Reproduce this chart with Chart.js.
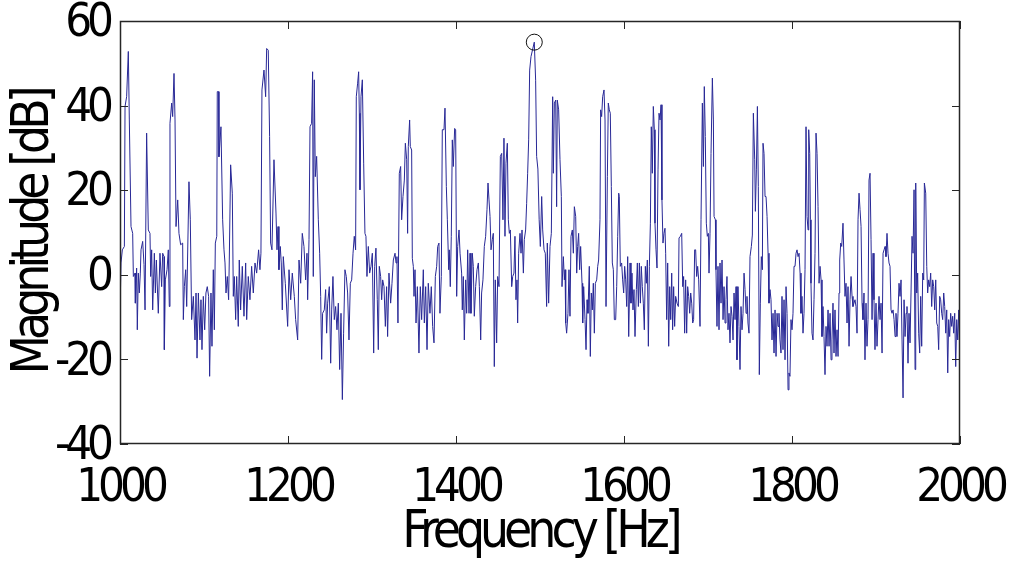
<!DOCTYPE html>
<html lang="en">
<head>
<meta charset="UTF-8">
<title>Magnitude spectrum</title>
<script src="https://cdn.jsdelivr.net/npm/chart.js"></script>
<style>
    html, body { margin: 0; padding: 0; background: #fff; }
    #spectrum { display: block; }
</style>
</head>
<body>
<canvas id="spectrum" width="1014" height="564"></canvas>
<script>
// [frequency Hz, magnitude dB]
const band1000 = [[1000,-9],[1001.2,2.8],[1002.8,5.9],[1005.2,6.7],[1006,39.8],[1007.9,42.1],[1009.9,52.8],[1011.1,36.6],[1013.1,11.4],[1015.1,9.8],[1015.9,-0.4],[1017.9,0.4],[1018.3,-6.7],[1019.8,1.6],[1020.6,-13],[1021.8,0.4],[1023,-4.3],[1024.2,0.4],[1025,5.9],[1027,7.9],[1028.6,2.4],[1029.8,-8.3],[1031.7,33.5],[1033.7,10.6],[1035.7,9.8],[1036.5,-0.4],[1037.7,5.9],[1038.9,-8.3],[1040.9,5.1],[1042.1,-4.3],[1043.3,3.5],[1045.6,-9.1],[1047.6,5.1],[1049.6,-2.8],[1050.8,5.1],[1052.4,4.3],[1052.8,-17.7],[1054,-1.2],[1056,1.2],[1057.5,5.9],[1058.7,-7.5],[1059.5,35.8],[1061.5,40.6],[1062.7,37.4],[1064.3,47.6],[1065.5,36.6],[1066.7,11.4],[1068.7,17.7],[1070.2,9.8],[1072.2,7.1],[1074.6,7.5],[1075.4,-10.6],[1076.6,-2.8],[1078.2,1.2],[1079.4,-7.5],[1082.1,22],[1083.7,13],[1085.3,-10.6],[1087.3,-5.1],[1089.3,-15.4],[1090.5,-4.3],[1091.7,-19.7],[1093.3,-4.3],[1095.2,-15.4],[1096.4,-5.9],[1097.6,-17.7],[1099.2,-5.1]];
const band1100 = [[1100.8,-13],[1102.3,-4.3],[1103.9,-2.8],[1105.5,-5.1],[1106.7,-24],[1108.3,-4.3],[1109.5,-16.9],[1111.1,1.2],[1112.3,-13],[1113.5,7.5],[1115.2,9.1],[1115.8,43.3],[1117.4,43.3],[1117.8,27.9],[1120.2,35],[1122.2,13],[1123.8,5.9],[1125,2.8],[1126.2,-4.3],[1127.7,-0.4],[1129.3,-5.9],[1130.1,3.5],[1131.7,26],[1133.7,19.3],[1134.9,-5.1],[1136.1,-0.4],[1137.7,-10.6],[1138.9,-0.4],[1140.8,-12.2],[1142,3.5],[1143.6,-8.3],[1145.6,2],[1147.6,-9.8],[1149.6,2.8],[1150.8,-10.6],[1152.7,-0.4],[1154.7,-5.9],[1156.7,2],[1158.7,-4.3],[1160.7,2.8],[1162.7,0.4],[1165,5.9],[1166.6,1.2],[1167.8,5.1],[1169,43.7],[1171.4,48.4],[1173.4,42.1],[1174.6,53.5],[1176.5,53.1],[1178.1,32.7],[1179.3,7.5],[1180.9,5.9],[1183.3,27.2],[1185.7,14.6],[1186.9,5.9],[1188.1,11.4],[1189.2,1.2],[1190.8,6.7],[1192,2.8],[1193.2,-8.3],[1194.4,4.3],[1196.8,-2],[1199.6,-12.2]];
const band1200 = [[1201.2,1.2],[1203.2,-5.9],[1205.1,0.4],[1207.5,-5.1],[1209.1,-10.6],[1211.5,-15.4],[1213.1,3.5],[1215.1,-2],[1217,9.8],[1219,6.7],[1221,-1.2],[1222.6,5.1],[1223.4,-5.9],[1225,8.3],[1226.2,35],[1228.1,35.8],[1229.3,48],[1230.1,-0.4],[1231.3,46.1],[1232.5,23.2],[1234.1,28],[1236.1,13],[1237.7,5.1],[1238.9,-5.1],[1240.1,-20],[1241.2,-9.1],[1243.2,-8.3],[1244.8,-3.5],[1246,-13.8],[1247.2,-6.7],[1249.2,-2.8],[1250.8,-20.9],[1252,-8.3],[1253.5,-0.4],[1255.1,-10.6],[1256.7,-7.5],[1258.3,-13],[1259.9,-6.7],[1261.5,-22.4],[1263.1,-9.1],[1264.7,-29.5],[1266.2,-13.8],[1267.8,1.2],[1269.4,-0.4],[1271,-4.3],[1272.6,-15.4],[1274.2,-2],[1275.8,-1.2],[1277.4,5.1],[1278.9,9.1],[1280.5,5.9],[1281.3,42.1],[1282.9,45.3],[1284.1,48],[1284.9,38.2],[1285.7,20.1],[1286.9,42.1],[1288.5,46.1],[1290.1,26.4],[1291.6,9.8],[1292.8,9.1],[1294,-0.4],[1295.6,6.7],[1297.2,0.4],[1298.8,2]];
const band1300 = [[1300.4,5.1],[1302,-18.5],[1303.2,2],[1304.7,6.3],[1306.3,-5.9],[1307.5,-17.7],[1308.7,2],[1310.3,-0.4],[1311.5,-5.9],[1312.7,-1.2],[1314.3,-2.8],[1315.9,-12.2],[1317.4,-2.8],[1318.6,-14.6],[1320.2,0.4],[1322.2,-6.7],[1323.8,-2],[1325.4,3.5],[1327.4,5.1],[1328.6,2.8],[1329.7,4.3],[1330.9,-11.4],[1332.5,24],[1334.1,25.6],[1335.3,13],[1336.9,18.5],[1338.5,22.4],[1339.7,31.1],[1341.3,27.2],[1342.4,9.8],[1343.2,30.3],[1344.8,36.6],[1345.6,30.3],[1347.2,29.5],[1348,3.9],[1349.2,2],[1350,-5.1],[1351.2,1.2],[1352.4,-11.4],[1354,-2.8],[1355.9,-18.5],[1357.5,-2.8],[1359.1,-10.6],[1361.1,1.2],[1362.3,-11.4],[1363.9,-2.8],[1365.5,-17.7],[1367,-2],[1369,-9.1],[1370.6,-2.8],[1372.2,-12.2],[1373.8,-16.1],[1375.4,-0.4],[1377,2],[1378.2,6.7],[1379.7,7.5],[1380.9,-9.1],[1382.5,-0.4],[1383.7,34.3],[1385.7,34.3],[1386.9,39.4],[1388.5,20.9],[1389.7,13],[1391.3,1.2],[1392,5.9],[1393.2,-2.8],[1394.4,9.1],[1395.6,31.9],[1396.8,25.6],[1398.4,34.6],[1399.6,34.3]];
const band1400 = [[1400.8,-5.1],[1402,6.7],[1403.6,10.6],[1404.8,5.1],[1406.7,0.4],[1407.5,-8.3],[1408.7,-0.4],[1409.9,-15.4],[1411.5,-1.2],[1412.7,-9.1],[1413.9,5.9],[1415.5,-9.1],[1416.7,5.1],[1417.8,-9.1],[1419.4,5.1],[1420.6,2],[1421.8,-9.8],[1423.4,-2.8],[1425,1.2],[1426.6,2.8],[1427.8,-2.8],[1429.4,-15.4],[1430.5,-4.3],[1432.1,-1.2],[1433.7,6.7],[1435.3,9.1],[1436.9,15.4],[1438.1,21.7],[1439.3,17.7],[1440.5,13.8],[1441.7,5.9],[1443.2,8.3],[1444.4,9.8],[1445.6,-21.7],[1446.8,-1.2],[1448.4,-16.1],[1449.6,-0.4],[1451.2,-2.8],[1452.8,28],[1454.4,28.7],[1455.9,13],[1457.1,32.3],[1458.3,9.1],[1459.5,26.4],[1461.1,31.1],[1462.3,13],[1463.5,9.8],[1464.7,10.6],[1466.3,-2.8],[1467.5,-0.4],[1469,0.4],[1470.2,9.1],[1471.4,-5.9],[1472.6,-1.2],[1473.4,-11.4],[1474.6,5.1],[1476.2,9.8],[1477.4,5.1],[1478.6,10.6],[1480.2,0.4],[1481.3,8.3],[1482.9,10.6],[1484.1,16.9],[1485.3,24],[1486.5,31.9],[1487.7,48.4],[1489.3,51.6],[1493.2,55],[1494.8,46],[1496,28],[1497.5,25],[1499,13]];
const band1500 = [[1500.4,6.7],[1502,18.5],[1503.2,10.6],[1504.8,5.9],[1506.3,5.1],[1507.9,-7.5],[1508.7,7.5],[1510.3,-6.7],[1511.9,6.7],[1513.5,9.8],[1515.1,42.1],[1515.9,24],[1517.1,40.6],[1518.7,41.3],[1519.8,16.1],[1520.6,41.3],[1522.2,39],[1523.8,27.2],[1525.4,18.5],[1526.2,-2.8],[1527.8,4.3],[1529,-1.2],[1529.8,1.2],[1530.6,-11.4],[1531.7,-13.8],[1533.3,-9.1],[1534.5,1.2],[1535.7,-9.8],[1536.9,9.1],[1538.5,10.6],[1539.7,5.1],[1540.9,16.1],[1542.5,13.8],[1543.7,0.4],[1544.8,6.7],[1546,9.8],[1547.2,1.2],[1548.4,6.7],[1550,-2],[1550.8,-11.4],[1552,-2.8],[1553.6,-10.6],[1554.8,-17.7],[1556,-5.9],[1557.1,-9.1],[1558.7,2],[1559.9,-19.3],[1561.1,-4.3],[1562.3,-8.3],[1563.5,-2],[1564.7,-13.8],[1565.9,-2],[1567.5,-1.2],[1568.7,2],[1569.8,3.5],[1571.4,13],[1572.2,39],[1573.4,37.4],[1574.6,42.1],[1576.2,43.7],[1577.4,36.6],[1578.6,-7.5],[1580.2,23.2],[1581.3,40.6],[1582.5,39],[1583.7,38.2],[1584.9,20.9],[1586.1,2.8],[1587.3,1.2],[1588.5,-10.6],[1590.1,-10.6],[1591.3,-2.8],[1592.5,9.1],[1593.7,19.3],[1594.4,18.5],[1595.6,2],[1597.2,2.8],[1598.4,-1.2],[1599.6,-4.3]];
const band1600 = [[1600.8,2],[1602,-1.2],[1603.2,-7.5],[1604.4,4.3],[1605.6,-14.6],[1607.2,2.8],[1608.3,-6.7],[1609.5,0.4],[1610.7,-8.3],[1611.9,-3.5],[1613.1,-14.6],[1614.7,-3.5],[1615.9,2.8],[1617.1,-7.5],[1618.3,2.8],[1619.5,-6.7],[1620.6,2],[1621.8,-2.8],[1623,-6.7],[1624.2,-13],[1625.4,2],[1626.6,-2],[1627.8,3.5],[1629,-16.9],[1630.2,2],[1631.4,12.2],[1632.5,35],[1633.7,24],[1634.9,39.8],[1636.1,34.3],[1636.9,12.2],[1638.1,5.9],[1639.3,1.6],[1640.5,24.8],[1641.7,38.2],[1642.9,36.6],[1644.1,40.2],[1645.2,17.7],[1646.4,7.5],[1647.6,9.8],[1648.8,11],[1649.6,5.1],[1650.8,-10.6],[1652,2.8],[1653.2,-16.9],[1654.4,-2.8],[1655.6,-10.6],[1656.8,0.4],[1657.9,-13],[1659.1,-2.8],[1660.3,-12.2],[1661.5,-5.1],[1663.1,-6.7],[1664.7,-7.5],[1665.5,8.7],[1667.1,9.1],[1668.7,9.8],[1669.9,-2.8],[1671,-0.4],[1672.2,-13.8],[1673.4,-1.2],[1674.6,-13.8],[1675.8,-2.8],[1677,-5.1],[1678.2,-9.1],[1679.4,-4.3],[1680.6,-6.7],[1681.8,-11.4],[1682.9,-10.6],[1684.1,5.9],[1685.3,5.9],[1686.5,-0.4],[1687.7,2],[1688.9,-1.2],[1690.5,-12.2],[1691.7,13],[1693.3,40.6],[1694.5,25.6],[1695.6,44.5],[1696.8,32.7],[1698,12.2],[1699.2,9.1]];
const band1700 = [[1700.4,9.8],[1701.2,0.4],[1702.4,9.8],[1703.6,28.7],[1705.2,46.5],[1706.4,36.6],[1707.2,13.8],[1708.8,13],[1709.5,1.2],[1710.7,-12.2],[1711.9,2],[1713.1,-13],[1714.3,2.8],[1715.5,-6.7],[1716.7,3.5],[1717.9,-10.6],[1719.1,-2.8],[1720.3,-11.4],[1721.4,-5.9],[1722.6,-0.4],[1723.8,-13],[1725,-9.1],[1726.2,-16.1],[1727.4,-7.5],[1728.6,-9.8],[1729.8,-15.4],[1731,-4.3],[1732.2,-10.6],[1733.4,-2.8],[1734.5,-20.1],[1735.7,-2.8],[1736.9,-12.2],[1738.1,-22.4],[1739.3,-7.5],[1740.5,-13],[1741.7,-9.1],[1742.9,0.4],[1744.1,-3.5],[1745.3,-9.1],[1746.4,-5.1],[1747.6,-11.4],[1748.8,-13.8],[1750,4.3],[1751.6,6.7],[1752.8,9.4],[1754,38.2],[1755.6,27.2],[1756.4,15],[1757.6,24.8],[1758.8,39.8],[1759.9,20.9],[1761.1,-23.6],[1762.3,-6.7],[1763.5,4.3],[1764.7,1.2],[1765.5,31.1],[1766.7,28.7],[1767.9,18.5],[1769.1,18.5],[1770.3,13.8],[1771.5,5.1],[1772.6,-6.7],[1773.8,-3.5],[1775,-5.9],[1776.2,-15.4],[1777.4,-9.1],[1778.6,-18.5],[1779.8,-8.3],[1781,-19.3],[1782.2,-9.1],[1783.4,-12.2],[1784.5,-9.1],[1785.7,-15.4],[1786.9,-18.5],[1788.1,-5.1],[1789.3,-17.7],[1790.5,-5.9],[1791.7,-20.1],[1792.9,-2.8],[1794.1,-9.1],[1795.3,-27.2],[1796.4,-23.2],[1797.6,-24],[1798.8,-10.6]];
const band1800 = [[1800,-13],[1801.2,-9.1],[1802.4,2],[1803.6,2],[1804.8,5.1],[1806,5.9],[1807.2,4.3],[1808.4,5.1],[1809.6,0.4],[1810.7,-9.1],[1811.9,-5.1],[1813.1,-13.8],[1814.3,-9.1],[1815.5,1.2],[1816.7,35],[1817.9,13.8],[1819.1,10.6],[1819.9,34.3],[1821.1,28.7],[1821.9,13],[1822.6,-2],[1823.8,-13.8],[1825,-15.4],[1826.2,-5.9],[1827.4,5.1],[1828.6,33.5],[1829.8,28.7],[1831,16.1],[1832.2,-2],[1833.4,2],[1834.6,-1.2],[1835.7,-14.6],[1836.9,-7.5],[1838.1,-14.6],[1839.3,-23.6],[1840.5,-12.2],[1841.7,-16.9],[1842.9,-8.3],[1844.1,-16.9],[1845.3,-9.1],[1846.5,-20.1],[1847.6,-15.4],[1848.8,-6.7],[1850,-18.5],[1851.2,-8.3],[1852.4,-19.3],[1853.6,-13],[1854.8,-19.3],[1856,-4.3],[1856.8,3.5],[1858,7.5],[1859.2,6.7],[1860.7,12.2],[1861.9,3.5],[1863.1,-5.1],[1864.3,-2],[1865.5,-11.4],[1866.7,-2.8],[1867.9,-16.9],[1869.1,-5.9],[1870.3,-0.4],[1871.5,-5.1],[1872.6,-7.5],[1873.8,-6.7],[1875,-5.9],[1876.2,-7.5],[1877.4,-13.8],[1878.6,13],[1879.8,19.3],[1881,15.4],[1882.2,11.4],[1883.4,-6.7],[1884.5,-10.6],[1885.7,-4.3],[1886.9,-20.1],[1888.1,-6.7],[1889.3,-16.9],[1890.5,-10.6],[1891.7,22.4],[1892.9,24],[1894.1,8.3],[1895.3,-10.6],[1896.5,5.1],[1897.6,-5.9],[1898.8,-17.7]];
const band1900 = [[1900,-6.7],[1901.2,-16.9],[1902.4,-10.6],[1903.6,-5.1],[1904.8,-10.6],[1906,-6.7],[1907.2,-18.5],[1908.4,5.1],[1909.6,5.9],[1910.8,6.7],[1911.9,4.3],[1913.1,9.8],[1914.3,5.1],[1915.5,2.8],[1916.7,2],[1917.9,-8.3],[1919.1,-9.1],[1920.3,-8.3],[1921.5,-10.6],[1922.7,-14.6],[1923.8,-9.1],[1925,-14.6],[1926.2,-9.1],[1927.4,-2],[1928.6,-5.1],[1929.8,-1.2],[1931,-15.4],[1932.2,-29.1],[1933.4,-5.9],[1934.6,-14.6],[1935.8,-9.1],[1936.9,-7.5],[1938.1,-20.9],[1939.3,-9.1],[1940.5,-16.1],[1941.7,-4.3],[1942.9,9.1],[1944.1,5.1],[1945.3,20.1],[1946.5,-22.4],[1947.3,21.7],[1948.5,-4.3],[1949.6,0.4],[1950.8,-13.8],[1952,-18.5],[1953.2,-5.1],[1954.4,-16.9],[1955.6,0.4],[1956.8,-1.2],[1957.6,21.7],[1959.2,19.3],[1960.4,2],[1961.5,-4.3],[1962.7,-1.2],[1963.9,-2.8],[1965.1,0.4],[1966.3,-7.5],[1967.5,-1.2],[1968.7,-2.8],[1969.9,-8.3],[1971.1,-1.2],[1972.3,-11.4],[1973.5,-12.2],[1974.6,-17.7],[1975.8,-5.1],[1977,-5.9],[1978.2,-9.1],[1979.4,-10.6],[1980.6,-4.3],[1981.8,-7.5],[1983,-13.8],[1984.2,-8.3],[1985.4,-23.2],[1986.5,-10.6],[1987.7,-14.6],[1988.9,-9.1],[1990.1,-12.2],[1991.3,-9.8],[1992.5,-13.8],[1993.7,-9.1],[1994.9,-21.7],[1996.1,-10.6],[1997.3,-15.4],[1998.5,-8.3],[1999.7,-17.7]];

const peakHz = [1493.2];
const peakDb = [55];

const xTicks = [1000, 1200, 1400, 1600, 1800, 2000];
const yTicks = [-40, -20, 0, 20, 40, 60];

const spectrum = [].concat(band1000, band1100, band1200, band1300, band1400,
    band1500, band1600, band1700, band1800, band1900);

const FONT = "'DejaVu Sans Condensed', 'DejaVu Sans', sans-serif";

// the reference font is very narrow, squeeze every label a little
const tightText = {
    id: 'tightText',
    beforeDraw(chart) {
        chart.ctx.letterSpacing = '-5px';
    }
};

// matlab style box: frame plus short ticks pointing inward on all four sides
const boxTicks = {
    id: 'boxTicks',
    afterDatasetsDraw(chart) {
        const { ctx, chartArea: a, scales: { x, y } } = chart;
        const len = 8;
        ctx.save();
        ctx.strokeStyle = '#262626';
        ctx.lineWidth = 1;
        ctx.beginPath();
        xTicks.forEach(v => {
            const px = Math.round(x.getPixelForValue(v)) + 0.5;
            ctx.moveTo(px, a.bottom); ctx.lineTo(px, a.bottom - len);
            ctx.moveTo(px, a.top); ctx.lineTo(px, a.top + len);
        });
        yTicks.forEach(v => {
            const py = Math.round(y.getPixelForValue(v)) + 0.5;
            ctx.moveTo(a.left, py); ctx.lineTo(a.left + len, py);
            ctx.moveTo(a.right, py); ctx.lineTo(a.right - len, py);
        });
        ctx.stroke();
        ctx.lineWidth = 1.5;
        ctx.strokeRect(a.left + 0.5, a.top + 0.5, a.right - a.left - 1, a.bottom - a.top - 1);
        ctx.restore();
    }
};

new Chart(document.getElementById('spectrum'), {
    type: 'line',
    data: {
        datasets: [{
            data: spectrum.map(p => ({ x: p[0], y: p[1] })),
            borderColor: 'rgb(40, 40, 150)',
            borderWidth: 1,
            pointRadius: 0,
            tension: 0,
            fill: false,
            order: 2
        }, {
            data: peakHz.map((f, i) => ({ x: f, y: peakDb[i] })),
            showLine: false,
            pointRadius: 8,
            pointBorderColor: '#111',
            pointBackgroundColor: 'rgba(0,0,0,0)',
            pointBorderWidth: 1,
            order: 1
        }]
    },
    options: {
        responsive: false,
        animation: false,
        devicePixelRatio: 1,
        layout: { padding: { top: 21, right: 54, left: 0, bottom: 0 } },
        plugins: { legend: { display: false }, tooltip: { enabled: false } },
        scales: {
            x: {
                type: 'linear',
                min: 1000,
                max: 2000,
                afterBuildTicks: s => { s.ticks = xTicks.map(v => ({ value: v })); },
                afterFit: s => { s.height = 120; s.paddingLeft = 0; s.paddingRight = 0; },
                grid: { display: false, drawTicks: false },
                border: { display: false },
                ticks: {
                    font: { family: FONT, size: 47 },
                    color: '#000',
                    padding: 17,
                    maxRotation: 0,
                    autoSkip: false,
                    callback: v => String(v)
                },
                title: {
                    display: true,
                    text: 'Frequency [Hz]',
                    font: { family: FONT, size: 51 },
                    color: '#000',
                    padding: { top: 0, bottom: 0 }
                }
            },
            y: {
                type: 'linear',
                min: -40,
                max: 60,
                afterBuildTicks: s => { s.ticks = yTicks.map(v => ({ value: v })); },
                afterFit: s => { s.width = 120; s.paddingTop = 0; s.paddingBottom = 0; },
                grid: { display: false, drawTicks: false },
                border: { display: false },
                ticks: {
                    font: { family: FONT, size: 47 },
                    color: '#000',
                    padding: 11,
                    labelOffset: 3,
                    autoSkip: false,
                    callback: v => String(v)
                },
                title: {
                    display: true,
                    text: 'Magnitude [dB]',
                    font: { family: FONT, size: 51 },
                    color: '#000',
                    padding: { top: 4, bottom: 0 }
                }
            }
        }
    },
    plugins: [tightText, boxTicks]
});
</script>
</body>
</html>
